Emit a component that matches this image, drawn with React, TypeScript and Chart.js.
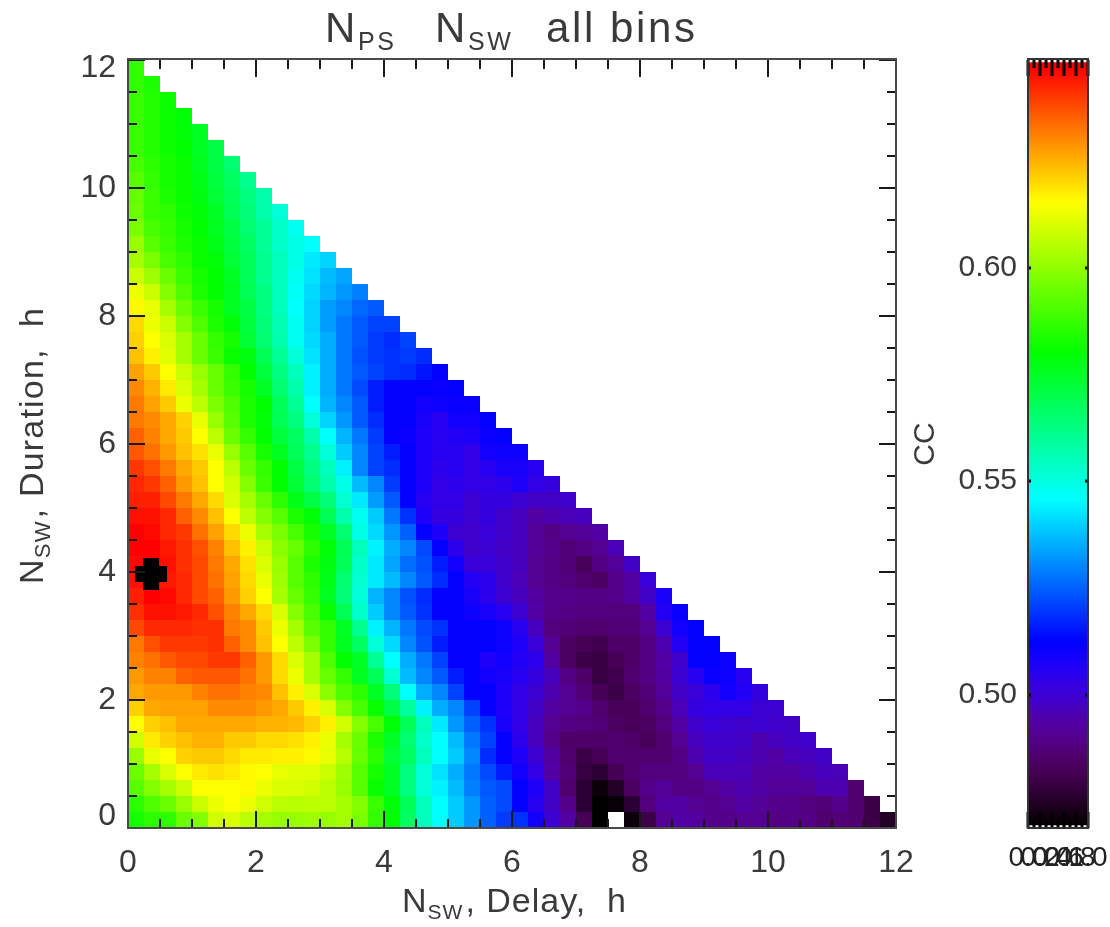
import React, { useEffect, useRef } from "react";
import { Chart, registerables } from "chart.js";

Chart.register(...registerables);

// CC x 1000 per cell; one list per duration bin (0.25 h wide), each starting at delay bin 0.
const r00 = [583,586,586,595,598,609,610,606,603,601,601,602,601,603,597,587,580,567,555,546,539,532,525,520,519,509,500,494,482,469,null,471,480,491,494,493,490,490,491,491,489,489,489,486,487,486,480,475];
const r01 = [586,591,595,601,608,613,615,613,609,606,605,606,606,603,598,588,579,568,555,546,539,532,525,522,512,505,498,490,477,469,470,477,488,493,494,491,490,491,494,492,490,490,488,487,490,486,480];
const r02 = [592,598,603,608,615,615,615,616,613,610,610,609,606,601,592,581,575,563,551,544,537,529,524,522,512,507,498,486,477,471,475,484,490,492,489,489,491,494,495,494,492,492,492,495,495,486];
const r03 = [595,603,610,615,618,619,618,616,615,612,611,611,608,602,592,583,575,563,551,542,535,528,522,516,509,503,494,487,479,477,482,486,488,488,488,491,496,496,496,494,493,493,495,497,496];
const r04 = [601,612,615,621,622,622,620,618,618,617,617,616,612,605,594,586,573,567,555,546,539,530,518,512,507,500,493,486,480,482,486,486,486,486,489,495,498,498,497,495,494,496,497,498];
const r05 = [609,618,621,623,625,625,622,622,620,620,619,617,613,603,595,584,575,565,553,546,537,528,521,512,504,497,490,485,485,485,486,485,483,486,491,497,499,499,498,495,497,498,499];
const r06 = [615,621,623,626,626,626,626,626,625,625,624,621,617,609,598,590,579,568,555,543,532,525,519,508,503,497,491,489,488,487,484,483,484,488,494,499,501,500,499,500,499,498];
const r07 = [621,626,627,627,627,630,630,630,628,626,622,617,610,598,590,581,571,559,544,535,530,521,512,507,503,498,493,491,490,486,483,483,486,490,496,502,503,503,503,500,500];
const r08 = [626,628,628,628,631,633,633,631,630,623,617,610,599,591,586,575,564,546,535,530,521,512,512,507,503,500,495,491,487,482,480,484,487,492,498,501,504,509,506,502];
const r09 = [628,631,631,635,636,636,636,633,628,620,613,603,594,587,576,568,552,537,530,524,516,512,509,508,505,502,497,489,485,479,481,486,489,493,500,505,511,510,505];
const r10 = [631,633,636,638,638,640,640,635,628,620,610,603,591,580,575,560,546,535,528,521,512,512,507,509,506,504,493,484,480,479,482,485,489,494,499,512,512,510];
const r11 = [632,637,640,640,640,641,635,630,623,615,606,597,587,576,567,551,541,530,523,516,512,512,512,510,507,501,491,484,482,481,485,485,489,495,506,512,512];
const r12 = [638,642,642,642,641,641,632,630,622,613,603,592,587,575,561,544,536,528,522,519,512,512,512,510,505,497,488,487,486,486,487,487,491,500,509,512];
const r13 = [641,645,645,644,642,637,631,626,620,610,598,590,581,569,553,539,530,524,519,512,512,510,508,505,500,494,490,489,488,488,488,488,494,506,511];
const r14 = [643,647,646,642,638,635,628,621,615,603,594,587,576,564,551,536,530,523,518,512,512,508,504,500,497,493,490,490,489,489,490,493,498,508];
const r15 = [645,647,644,642,638,633,627,620,612,602,592,586,577,565,552,543,537,530,524,518,512,506,504,499,496,491,489,488,486,484,490,493,501];
const r16 = [646,647,645,641,638,632,626,619,610,601,592,584,578,568,553,543,534,527,523,516,509,501,501,499,497,491,489,487,483,489,492,498];
const r17 = [647,647,644,641,637,631,623,617,608,599,594,586,579,569,555,544,535,530,522,512,504,499,500,498,497,492,490,487,489,491,496];
const r18 = [647,646,642,640,633,627,620,613,603,597,590,583,575,565,549,541,532,525,512,507,500,499,501,499,497,492,489,491,492,494];
const r19 = [645,645,642,635,630,623,615,606,598,592,584,579,569,557,548,539,528,519,507,502,502,500,502,499,497,494,495,496,497];
const r20 = [643,643,638,632,626,620,610,603,594,586,577,571,564,552,543,533,524,512,505,503,503,500,502,502,500,498,498,499];
const r21 = [642,640,635,628,623,615,609,598,588,580,573,565,557,549,537,530,520,512,507,503,504,503,503,504,507,503,502];
const r22 = [640,637,632,626,622,615,606,595,587,580,571,563,555,544,530,521,518,512,507,504,505,503,505,508,508,505];
const r23 = [636,633,628,623,619,612,601,592,583,576,568,561,551,539,530,521,516,512,507,505,505,503,509,510,510];
const r24 = [635,631,626,622,615,606,595,587,580,572,567,557,546,536,528,520,512,511,507,505,506,507,511,512];
const r25 = [632,630,626,621,612,601,592,584,579,569,563,551,540,532,524,518,512,512,508,505,509,509,512];
const r26 = [632,627,622,613,606,597,591,584,580,568,560,546,536,530,524,516,512,512,509,510,511,511];
const r27 = [630,625,618,610,603,594,588,583,575,565,557,544,535,528,522,516,512,512,512,511,512];
const r28 = [627,622,615,608,601,594,587,580,572,563,555,544,535,528,524,521,519,518,515,512];
const r29 = [623,617,611,603,595,588,581,578,569,560,551,542,535,528,523,520,519,520,518];
const r30 = [621,615,610,603,595,587,583,573,565,557,548,541,535,528,524,520,518,521];
const r31 = [620,613,608,598,591,584,579,572,564,556,548,540,533,528,524,521,521];
const r32 = [616,612,603,595,588,583,576,571,563,555,546,540,533,530,526,524];
const r33 = [613,608,598,591,584,580,576,569,563,555,547,541,536,532,529];
const r34 = [608,602,595,588,583,580,575,568,561,555,548,542,537,534];
const r35 = [603,597,590,586,581,579,573,568,561,555,549,543,540];
const r36 = [601,592,588,584,581,577,572,567,560,553,549,546];
const r37 = [597,590,587,583,580,576,571,565,560,553,548];
const r38 = [595,588,586,582,579,575,569,564,557,551];
const r39 = [594,588,584,581,578,573,568,563,557];
const r40 = [592,587,583,581,577,572,567,561];
const r41 = [590,586,583,581,576,571,565];
const r42 = [588,585,582,580,575,571];
const r43 = [588,585,582,579,575];
const r44 = [588,585,582,579];
const r45 = [588,585,582];
const r46 = [587,584];
const r47 = [587];
const ccRows = [r00,r01,r02,r03,r04,r05,r06,r07,r08,r09,r10,r11,r12,r13,r14,r15,r16,r17,r18,r19,r20,r21,r22,r23,r24,r25,r26,r27,r28,r29,r30,r31,r32,r33,r34,r35,r36,r37,r38,r39,r40,r41,r42,r43,r44,r45,r46,r47];

const binHours = 0.25;
const bestDelay = [0.36];
const bestDuration = [3.97];
const axisTicks = [0, 2, 4, 6, 8, 10, 12];
const minorTicks = [0.5, 1, 1.5, 2.5, 3, 3.5, 4.5, 5, 5.5, 6.5, 7, 7.5, 8.5, 9, 9.5, 10.5, 11, 11.5];

const ccScaleMin = 0.4688;
const ccScaleMax = 0.6486;
const ccBarMin = 0.4695;
const ccBarMax = 0.648;
const ccTicks = [0.5, 0.55, 0.6];
const barXTicks = [0, 0.2, 0.4, 0.6, 0.8, 1];
const barXMinor = [0.1, 0.3, 0.5, 0.7, 0.9];

const stopValues = [0.4688, 0.474, 0.478, 0.482, 0.486, 0.49, 0.494, 0.497, 0.5, 0.503, 0.507, 0.5124, 0.5458, 0.58, 0.6153, 0.647];
const stopColors = [
  [0, 0, 0], [30, 0, 30], [50, 0, 60], [70, 0, 85], [80, 0, 110], [85, 0, 140], [80, 0, 165], [70, 0, 190],
  [60, 0, 210], [50, 0, 230], [30, 0, 250], [0, 0, 255], [0, 255, 255], [0, 255, 0], [255, 255, 0], [255, 0, 0],
];

const titlePs = [["N", 0], ["PS", 1]] as [string, number][];
const titleSw = [["N", 0], ["SW", 1]] as [string, number][];
const titleBins = [["all bins", 0]] as [string, number][];
const xTitleRuns = [["N", 0], ["SW", 1], [", Delay,  h", 0]] as [string, number][];
const yTitleRuns = [["N", 0], ["SW", 1], [", Duration,  h", 0]] as [string, number][];

const FONT = '"Liberation Sans", sans-serif';
const INK = "#3a3a3a";

function ccColor(v: number) {
  if (v <= stopValues[0]) return "rgb(0,0,0)";
  for (let i = 1; i < stopValues.length; i++) {
    if (v <= stopValues[i]) {
      const t = (v - stopValues[i - 1]) / (stopValues[i] - stopValues[i - 1]);
      const a = stopColors[i - 1];
      const b = stopColors[i];
      return `rgb(${a.map((c, k) => Math.round(c + (b[k] - c) * t)).join(",")})`;
    }
  }
  return "rgb(255,0,0)";
}

function drawRuns(ctx: CanvasRenderingContext2D, runs: [string, number][], size: number, subSize: number, drop: number, spacing: number) {
  let x = 0;
  ctx.letterSpacing = `${spacing}px`;
  ctx.textAlign = "left";
  ctx.textBaseline = "alphabetic";
  ctx.fillStyle = INK;
  for (const [text, sub] of runs) {
    ctx.font = `${sub ? subSize : size}px ${FONT}`;
    ctx.fillText(text, x, sub ? drop : 0);
    x += ctx.measureText(text).width + (sub ? 2 : 0);
  }
  ctx.letterSpacing = "0px";
}

function hTick(ctx: CanvasRenderingContext2D, x: number, y: number, dx: number) {
  ctx.moveTo(x, y);
  ctx.lineTo(x + dx, y);
}
function vTick(ctx: CanvasRenderingContext2D, x: number, y: number, dy: number) {
  ctx.moveTo(x, y);
  ctx.lineTo(x, y + dy);
}

const frameAndText = {
  id: "frameAndText",
  beforeDraw(chart: any) {
    const items = chart.scales.y.getLabelItems();
    for (const it of items) {
      if (it.nudged) continue;
      it.nudged = true;
      if (it.label === "0") it.options.translation[1] -= 12;
      if (it.label === "12") it.options.translation[1] += 8;
    }
  },
  afterDatasetsDraw(chart: any) {
    const { ctx, chartArea: a, scales } = chart;
    ctx.save();
    ctx.strokeStyle = "#1a1a1a";
    ctx.lineWidth = 2;
    ctx.beginPath();
    for (const [list, len] of [[minorTicks, 9], [axisTicks, 17]] as [number[], number][]) {
      for (const v of list) {
        const x = Math.round(scales.x.getPixelForValue(v));
        const y = Math.round(scales.y.getPixelForValue(v));
        vTick(ctx, x, a.bottom, -len);
        vTick(ctx, x, a.top, len);
        hTick(ctx, a.left, y, len);
        hTick(ctx, a.right, y, -len);
      }
    }
    ctx.stroke();
    ctx.strokeStyle = "#4a4a4a";
    ctx.strokeRect(a.left, a.top - 1, a.right - a.left, a.bottom - a.top + 1);
    ctx.restore();

    for (const [runs, x] of [[titlePs, 325], [titleSw, 435], [titleBins, 546]] as [[string, number][], number][]) {
      ctx.save();
      ctx.translate(x, 42);
      drawRuns(ctx, runs, 42, 25, 8, 2.6);
      ctx.restore();
    }
    ctx.save();
    ctx.translate(402, 912);
    drawRuns(ctx, xTitleRuns, 34, 21, 7, 1);
    ctx.restore();
    ctx.save();
    ctx.translate(43, 584);
    ctx.rotate(-Math.PI / 2);
    drawRuns(ctx, yTitleRuns, 34, 22, 7, 1.2);
    ctx.restore();
  },
};

const barFrame = {
  id: "barFrame",
  afterDatasetsDraw(chart: any) {
    const { ctx, chartArea: a, scales } = chart;
    ctx.save();
    ctx.strokeStyle = "#000";
    ctx.lineWidth = 3;
    ctx.beginPath();
    for (const [list, len] of [[barXMinor, 8], [barXTicks, 16]] as [number[], number][]) {
      for (const v of list) {
        const x = Math.round(scales.x.getPixelForValue(v));
        vTick(ctx, x, a.top, len);
        vTick(ctx, x, a.bottom, -len);
      }
    }
    for (const v of ccTicks) {
      const y = Math.round(scales.y.getPixelForValue(v));
      hTick(ctx, a.left, y, 3);
      hTick(ctx, a.right, y, -3);
    }
    ctx.stroke();
    ctx.strokeStyle = "#333";
    ctx.lineWidth = 2;
    ctx.strokeRect(a.left, a.top - 1, a.right - a.left, a.bottom - a.top + 1);
    ctx.restore();
  },
};

function barFill(c: any) {
  const y = c.chart.scales.y;
  const y0 = y ? y.getPixelForValue(ccScaleMin) : NaN;
  const last = stopValues[stopValues.length - 1];
  const y1 = y ? y.getPixelForValue(last) : NaN;
  if (!Number.isFinite(y0) || !Number.isFinite(y1)) return "#000";
  const g = c.chart.ctx.createLinearGradient(0, y0, 0, y1);
  stopValues.forEach((v, i) => g.addColorStop((v - ccScaleMin) / (last - ccScaleMin), `rgb(${stopColors[i].join(",")})`));
  return g;
}

export default function App() {
  const mainRef = useRef<HTMLCanvasElement>(null);
  const barRef = useRef<HTMLCanvasElement>(null);

  useEffect(() => {
    const cells: { x: number; y: number; v: number }[] = [];
    ccRows.forEach((row, r) =>
      row.forEach((v, c) => {
        if (v !== null) cells.push({ x: (c + 0.5) * binHours, y: (r + 0.5) * binHours, v: (v as number) / 1000 });
      })
    );
    const tickFont = { family: FONT, size: 32 };
    const axisBase = {
      type: "linear" as const,
      min: 0,
      max: 12,
      grid: { display: false, drawTicks: false },
      border: { display: false },
    };
    const main = new Chart(mainRef.current!, {
      type: "scatter",
      data: {
        datasets: [
          {
            label: "CC",
            data: cells as any,
            order: 2,
            pointStyle: "rect",
            pointRadius: 11.32,
            pointBorderWidth: 0,
            pointHoverRadius: 11.32,
            pointBackgroundColor: (c: any) => (c.raw ? ccColor(c.raw.v) : "#000"),
          },
          {
            label: "best",
            data: bestDelay.map((x, i) => ({ x, y: bestDuration[i] })),
            order: 1,
            pointStyle: "cross",
            pointRadius: 16,
            pointBorderWidth: 16,
            pointBorderColor: "#000",
            pointBackgroundColor: "#000",
          },
        ],
      },
      options: {
        animation: false,
        responsive: false,
        events: [],
        layout: { padding: { left: 0, top: 60, right: 214, bottom: 0 } },
        plugins: { legend: { display: false }, tooltip: { enabled: false } },
        scales: {
          x: {
            ...axisBase,
            afterBuildTicks: (s: any) => { s.ticks = axisTicks.map((value) => ({ value })); },
            afterFit: (s: any) => { s.height = 99; },
            ticks: { autoSkip: false, maxRotation: 0, font: tickFont, color: INK, padding: 16 },
          },
          y: {
            ...axisBase,
            afterBuildTicks: (s: any) => { s.ticks = axisTicks.map((value) => ({ value })); },
            afterFit: (s: any) => { s.width = 128; },
            ticks: { autoSkip: false, font: tickFont, color: INK, padding: 12 },
          },
        },
      } as any,
      plugins: [frameAndText],
    });

    const bar = new Chart(barRef.current!, {
      type: "bar",
      data: {
        datasets: [
          {
            label: "CC",
            data: [{ x: 0.5, y: [ccBarMin, ccBarMax] }] as any,
            barThickness: 60,
            backgroundColor: barFill,
          },
        ],
      },
      options: {
        animation: false,
        responsive: false,
        events: [],
        layout: { padding: { left: 908, top: 60, right: 22, bottom: 0 } },
        plugins: { legend: { display: false }, tooltip: { enabled: false } },
        scales: {
          x: {
            type: "linear",
            min: 0,
            max: 1,
            offset: false,
            grid: { display: false, drawTicks: false },
            border: { display: false },
            afterBuildTicks: (s: any) => { s.ticks = barXTicks.map((value) => ({ value })); },
            afterFit: (s: any) => { s.height = 99; s.paddingLeft = 0; s.paddingRight = 0; },
            ticks: { autoSkip: false, maxRotation: 0, font: { family: FONT, size: 28 }, color: "#222", padding: 13, callback: (v: any) => Number(v).toFixed(1) },
          },
          y: {
            type: "linear",
            min: ccScaleMin,
            max: ccScaleMax,
            grid: { display: false, drawTicks: false },
            border: { display: false },
            afterBuildTicks: (s: any) => { s.ticks = ccTicks.map((value) => ({ value })); },
            afterFit: (s: any) => { s.width = 120; },
            title: { display: true, text: "CC", font: { family: FONT, size: 30 }, color: INK, padding: { top: 0, bottom: 0 } },
            ticks: { autoSkip: false, font: { family: FONT, size: 30 }, color: INK, padding: 11, callback: (v: any) => Number(v).toFixed(2) },
          },
        },
      } as any,
      plugins: [barFrame],
    });

    return () => {
      main.destroy();
      bar.destroy();
    };
  }, []);

  const canvasStyle: React.CSSProperties = { position: "absolute", left: 0, top: 0, display: "block", filter: "blur(0.4px)" };
  return (
    <div style={{ position: "absolute", left: 0, top: 0, width: 1110, height: 927, background: "#fff" }}>
      <canvas ref={mainRef} width={1110} height={927} style={canvasStyle} />
      <canvas ref={barRef} width={1110} height={927} style={canvasStyle} />
    </div>
  );
}
